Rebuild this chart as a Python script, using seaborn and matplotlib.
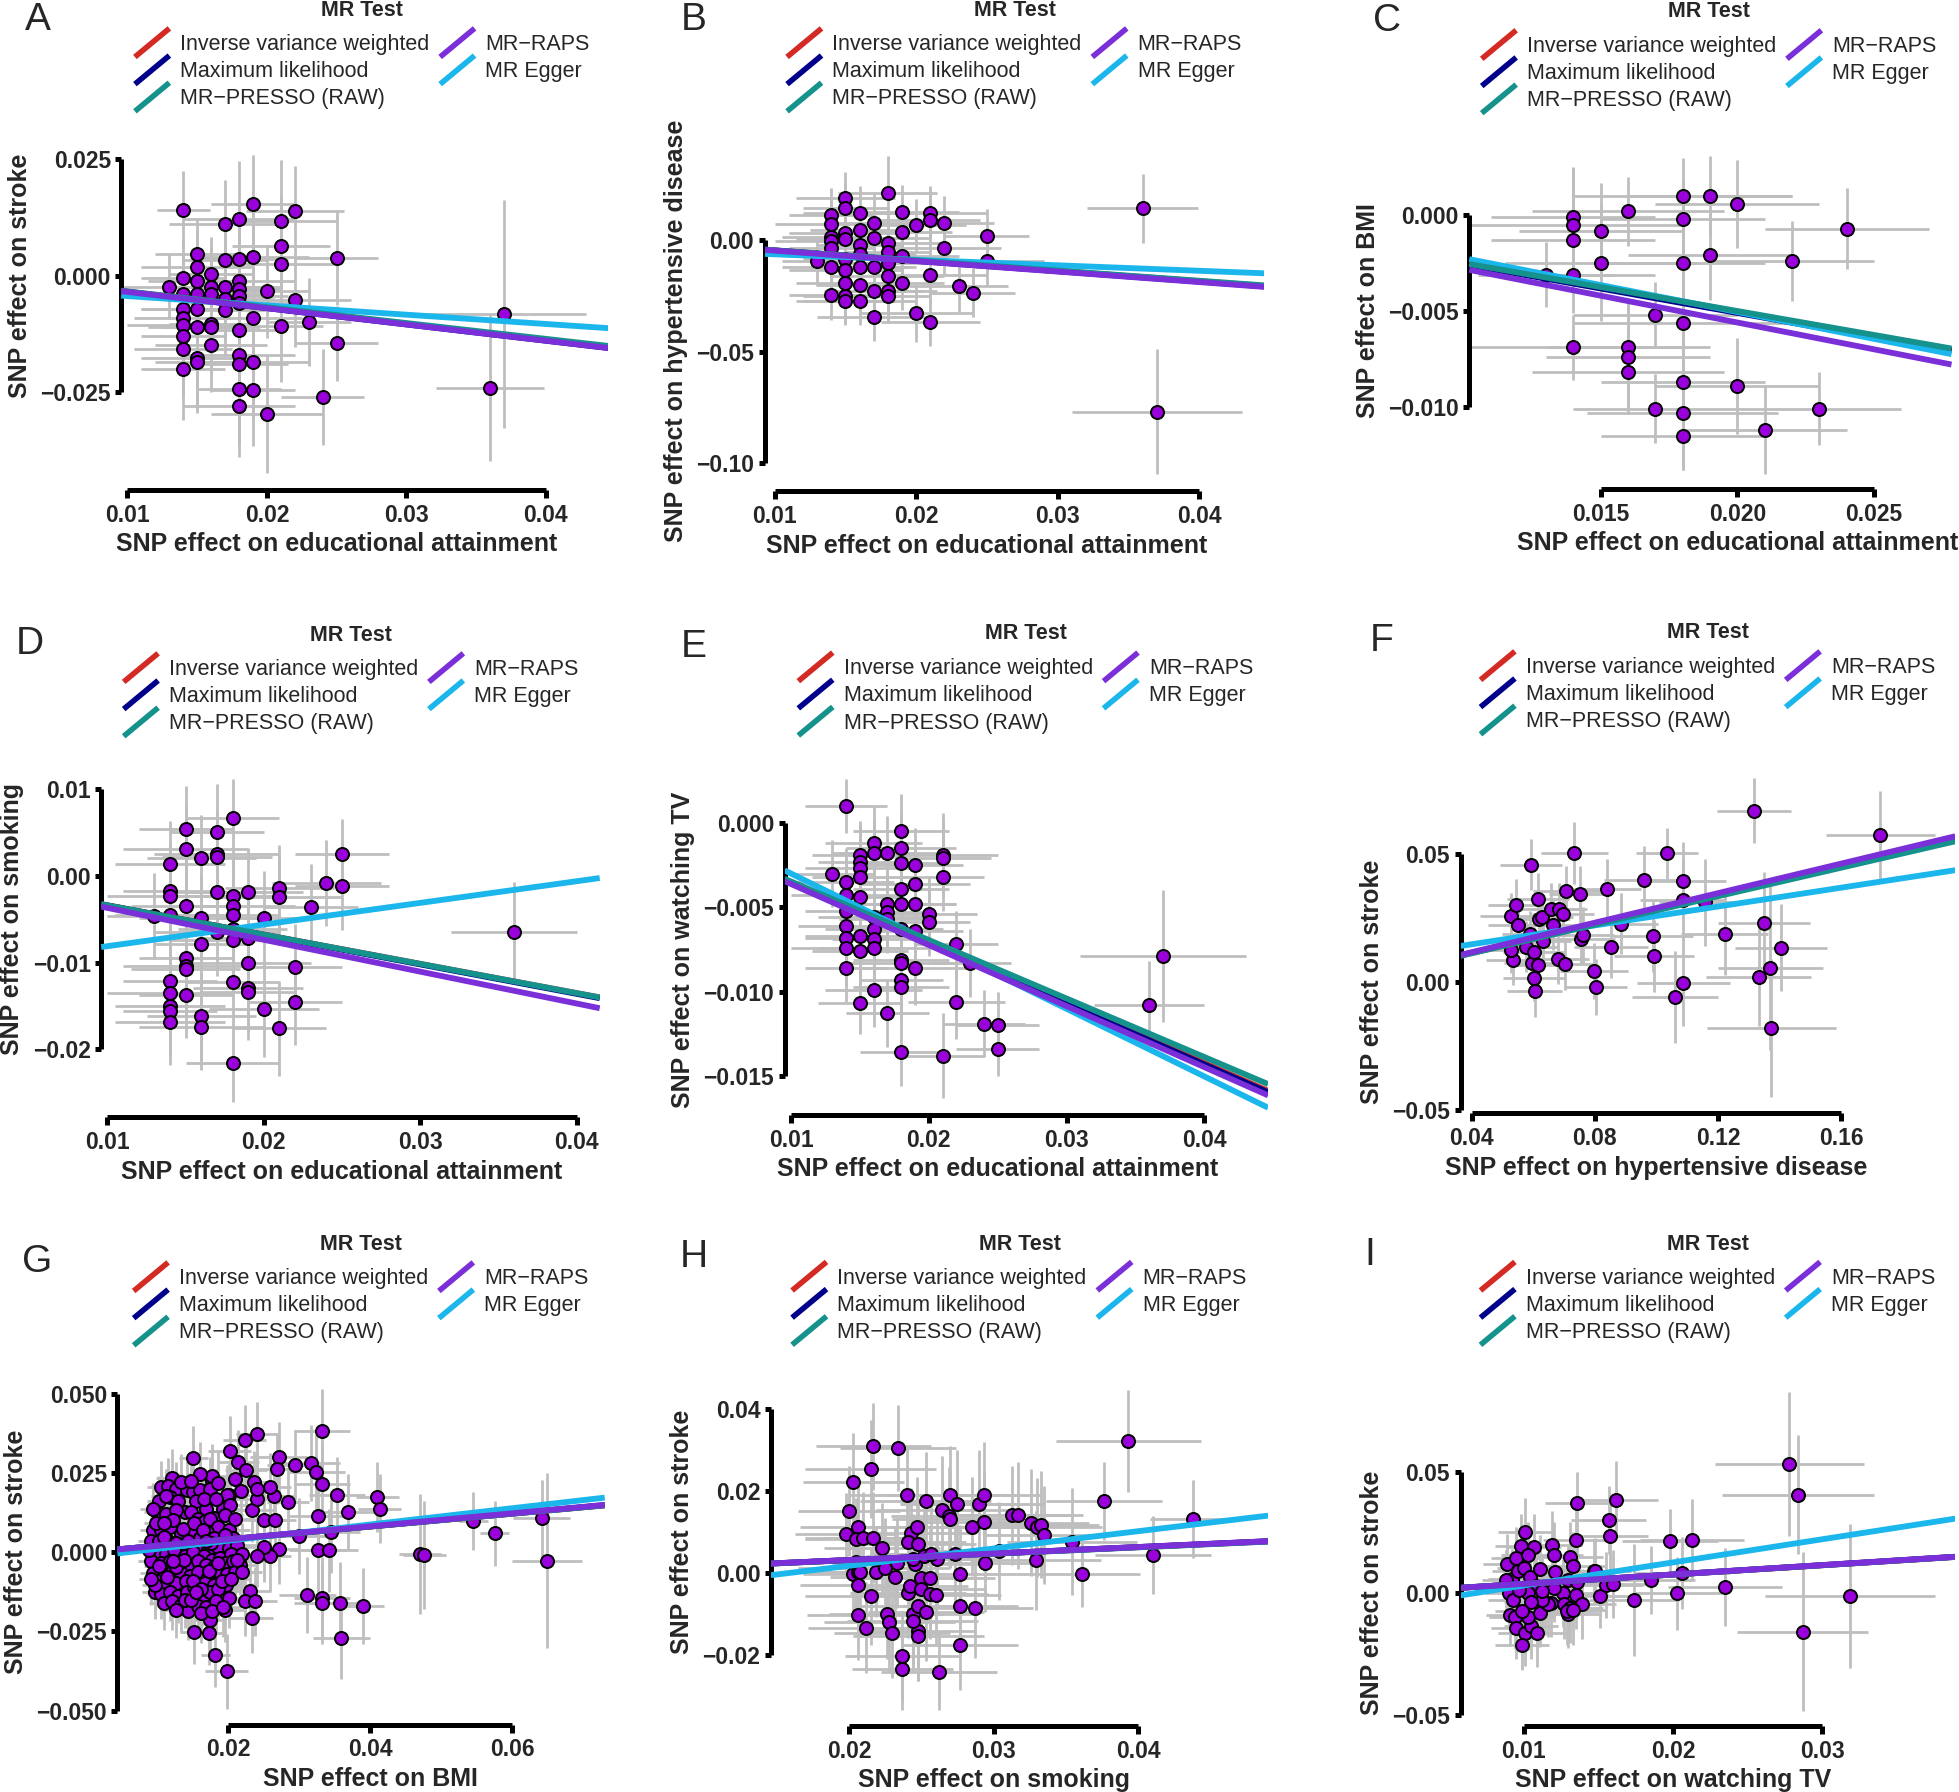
import numpy as np
import pandas as pd
import matplotlib
matplotlib.use("Agg")
import matplotlib.pyplot as plt
from matplotlib.lines import Line2D
from matplotlib.legend_handler import HandlerBase
import seaborn as sns

sns.set_style("white")
plt.rcParams['font.family'] = ['Liberation Sans', 'DejaVu Sans']

MINUS = "\u2212"
METHODS = ["Inverse variance weighted", "Maximum likelihood", "MR" + MINUS + "PRESSO (RAW)",
           "MR" + MINUS + "RAPS", "MR Egger"]
METHOD_COLORS = ["#D42A24", "#00008B", "#16928C", "#7B2FD8", "#1AB6EC"]
DRAW_ORDER = [0, 1, 4, 2, 3]

# ---------------- data: (SNP effect on exposure, on outcome, x half-width, y half-width)
PTS_A = [
    (0.013, -0.0024, 0.0035, 0.0070),
    (0.014, 0.0142, 0.0019, 0.0083), (0.014, -0.0004, 0.0030, 0.0080), (0.014, -0.0040, 0.0040, 0.0090),
    (0.014, -0.0071, 0.0030, 0.0080), (0.014, -0.0091, 0.0035, 0.0090), (0.014, -0.0107, 0.0040, 0.0100),
    (0.014, -0.0130, 0.0030, 0.0090), (0.014, -0.0158, 0.0035, 0.0100), (0.014, -0.0200, 0.0030, 0.0110),
    (0.015, 0.0047, 0.0030, 0.0075), (0.015, 0.0018, 0.0040, 0.0080), (0.015, -0.0012, 0.0035, 0.0085),
    (0.015, -0.0040, 0.0030, 0.0090), (0.015, -0.0071, 0.0040, 0.0090), (0.015, -0.0111, 0.0035, 0.0100),
    (0.015, -0.0178, 0.0040, 0.0100), (0.015, -0.0186, 0.0030, 0.0110),
    (0.016, 0.0004, 0.0030, 0.0080), (0.016, -0.0024, 0.0035, 0.0085), (0.016, -0.0040, 0.0040, 0.0090),
    (0.016, -0.0103, 0.0030, 0.0095), (0.016, -0.0111, 0.0035, 0.0100), (0.016, -0.0150, 0.0040, 0.0100),
    (0.017, 0.0111, 0.0040, 0.0095), (0.017, 0.0033, 0.0030, 0.0090), (0.017, -0.0024, 0.0040, 0.0085),
    (0.017, -0.0051, 0.0035, 0.0090), (0.017, -0.0073, 0.0030, 0.0100),
    (0.018, 0.0122, 0.0040, 0.0125), (0.018, 0.0036, 0.0035, 0.0090), (0.018, -0.0012, 0.0040, 0.0095),
    (0.018, -0.0028, 0.0030, 0.0090), (0.018, -0.0043, 0.0035, 0.0090), (0.018, -0.0059, 0.0040, 0.0100),
    (0.018, -0.0118, 0.0030, 0.0110), (0.018, -0.0170, 0.0040, 0.0110), (0.018, -0.0190, 0.0035, 0.0110),
    (0.018, -0.0243, 0.0030, 0.0120), (0.018, -0.0280, 0.0040, 0.0110),
    (0.019, 0.0154, 0.0030, 0.0105), (0.019, 0.0040, 0.0040, 0.0095), (0.019, -0.0091, 0.0035, 0.0110),
    (0.019, -0.0186, 0.0040, 0.0120), (0.019, -0.0247, 0.0030, 0.0120),
    (0.020, -0.0034, 0.0030, 0.0100), (0.020, -0.0298, 0.0040, 0.0127),
    (0.021, 0.0118, 0.0040, 0.0130), (0.021, 0.0063, 0.0035, 0.0110), (0.021, 0.0024, 0.0040, 0.0100),
    (0.021, -0.0108, 0.0030, 0.0120),
    (0.022, 0.0140, 0.0035, 0.0095), (0.022, -0.0053, 0.0040, 0.0100),
    (0.023, -0.0100, 0.0030, 0.0095),
    (0.024, -0.0261, 0.0030, 0.0103),
    (0.025, 0.0037, 0.0030, 0.0100), (0.025, -0.0146, 0.0030, 0.0080),
    (0.036, -0.0241, 0.0039, 0.0158),
    (0.037, -0.0083, 0.0059, 0.0245),
]
PTS_B = [
    (0.013, -0.0094, 0.0025, 0.011),
    (0.014, 0.0113, 0.0030, 0.012), (0.014, 0.0071, 0.0040, 0.011), (0.014, 0.0013, 0.0035, 0.012),
    (0.014, -0.0003, 0.0040, 0.011), (0.014, -0.0036, 0.0030, 0.012), (0.014, -0.0119, 0.0035, 0.012),
    (0.014, -0.0248, 0.0030, 0.011),
    (0.015, 0.0187, 0.0035, 0.012), (0.015, 0.0146, 0.0030, 0.011), (0.015, 0.0033, 0.0040, 0.012),
    (0.015, 0.0005, 0.0035, 0.011), (0.015, -0.0086, 0.0030, 0.012), (0.015, -0.0136, 0.0040, 0.012),
    (0.015, -0.0194, 0.0035, 0.011), (0.015, -0.0252, 0.0030, 0.012), (0.015, -0.0272, 0.0035, 0.011),
    (0.016, 0.0121, 0.0040, 0.012), (0.016, 0.0046, 0.0035, 0.011), (0.016, -0.0023, 0.0030, 0.012),
    (0.016, -0.0061, 0.0040, 0.011), (0.016, -0.0119, 0.0035, 0.012), (0.016, -0.0199, 0.0030, 0.012),
    (0.016, -0.0272, 0.0040, 0.011),
    (0.017, 0.0079, 0.0035, 0.013), (0.017, 0.0010, 0.0040, 0.012), (0.017, -0.0119, 0.0030, 0.012),
    (0.017, -0.0227, 0.0035, 0.012), (0.017, -0.0343, 0.0040, 0.011),
    (0.018, 0.0212, 0.0035, 0.0165), (0.018, -0.0012, 0.0040, 0.012), (0.018, -0.0053, 0.0030, 0.012),
    (0.018, -0.0103, 0.0035, 0.013), (0.018, -0.0161, 0.0040, 0.012), (0.018, -0.0227, 0.0035, 0.013),
    (0.018, -0.0252, 0.0030, 0.012),
    (0.019, 0.0126, 0.0040, 0.012), (0.019, 0.0038, 0.0035, 0.012), (0.019, -0.0070, 0.0040, 0.013),
    (0.019, -0.0194, 0.0030, 0.012),
    (0.020, 0.0066, 0.0035, 0.012), (0.020, -0.0326, 0.0040, 0.013),
    (0.021, 0.0121, 0.0040, 0.012), (0.021, 0.0088, 0.0035, 0.013), (0.021, -0.0156, 0.0040, 0.012),
    (0.021, -0.0368, 0.0035, 0.0105),
    (0.022, 0.0079, 0.0035, 0.012), (0.022, -0.0036, 0.0040, 0.012),
    (0.023, -0.0205, 0.0035, 0.012),
    (0.024, -0.0235, 0.0030, 0.011),
    (0.025, 0.0018, 0.0030, 0.012), (0.025, -0.0094, 0.0040, 0.011),
    (0.036, 0.0142, 0.0039, 0.0153),
    (0.037, -0.0770, 0.0060, 0.0280),
]
PTS_C = [
    (0.013, -0.0031, 0.0025, 0.0017),
    (0.014, -0.0001, 0.0030, 0.0025), (0.014, -0.0005, 0.0040, 0.0030), (0.014, -0.0013, 0.0030, 0.0025),
    (0.014, -0.0031, 0.0030, 0.0020), (0.014, -0.0069, 0.0040, 0.0017),
    (0.015, -0.0008, 0.0030, 0.0025), (0.015, -0.0025, 0.0035, 0.0030),
    (0.016, 0.0002, 0.0035, 0.0018), (0.016, -0.0069, 0.0030, 0.0025), (0.016, -0.0074, 0.0030, 0.0030),
    (0.016, -0.0082, 0.0035, 0.0020),
    (0.017, -0.0052, 0.0030, 0.0017), (0.017, -0.0101, 0.0030, 0.0018),
    (0.018, 0.0010, 0.0040, 0.0020), (0.018, -0.0002, 0.0030, 0.0020), (0.018, -0.0025, 0.0030, 0.0020),
    (0.018, -0.0056, 0.0040, 0.0030), (0.018, -0.0087, 0.0030, 0.0035), (0.018, -0.0103, 0.0035, 0.0030),
    (0.018, -0.0115, 0.0030, 0.0018),
    (0.019, 0.0010, 0.0030, 0.0021), (0.019, -0.0021, 0.0030, 0.0023),
    (0.020, 0.0006, 0.0030, 0.0023), (0.020, -0.0089, 0.0030, 0.0025),
    (0.021, -0.0112, 0.0030, 0.0023),
    (0.022, -0.0024, 0.0030, 0.0021),
    (0.023, -0.0101, 0.0030, 0.0019),
    (0.024, -0.0007, 0.0030, 0.0021),
]
PTS_D = [
    (0.013, -0.0046, 0.0030, 0.0050),
    (0.014, 0.0014, 0.0035, 0.0050), (0.014, -0.0017, 0.0030, 0.0055), (0.014, -0.0023, 0.0040, 0.0050),
    (0.014, -0.0045, 0.0035, 0.0050), (0.014, -0.0121, 0.0030, 0.0050), (0.014, -0.0135, 0.0040, 0.0055),
    (0.014, -0.0150, 0.0035, 0.0050), (0.014, -0.0156, 0.0030, 0.0050), (0.014, -0.0168, 0.0035, 0.0050),
    (0.015, 0.0054, 0.0030, 0.0050), (0.015, 0.0031, 0.0040, 0.0050), (0.015, -0.0035, 0.0035, 0.0055),
    (0.015, -0.0095, 0.0030, 0.0050), (0.015, -0.0104, 0.0040, 0.0050), (0.015, -0.0107, 0.0035, 0.0055),
    (0.015, -0.0137, 0.0030, 0.0050),
    (0.016, 0.0021, 0.0035, 0.0050), (0.016, -0.0048, 0.0040, 0.0050), (0.016, -0.0079, 0.0030, 0.0055),
    (0.016, -0.0162, 0.0035, 0.0050), (0.016, -0.0174, 0.0040, 0.0050),
    (0.017, 0.0051, 0.0030, 0.0055), (0.017, 0.0026, 0.0040, 0.0050), (0.017, 0.0022, 0.0035, 0.0050),
    (0.017, -0.0018, 0.0030, 0.0055), (0.017, -0.0065, 0.0040, 0.0050),
    (0.018, 0.0067, 0.0030, 0.0045), (0.018, -0.0023, 0.0035, 0.0050), (0.018, -0.0035, 0.0040, 0.0055),
    (0.018, -0.0045, 0.0030, 0.0050), (0.018, -0.0061, 0.0035, 0.0050), (0.018, -0.0074, 0.0040, 0.0055),
    (0.018, -0.0122, 0.0030, 0.0050), (0.018, -0.0216, 0.0030, 0.0045),
    (0.019, -0.0018, 0.0035, 0.0050), (0.019, -0.0072, 0.0030, 0.0055), (0.019, -0.0100, 0.0040, 0.0050),
    (0.019, -0.0129, 0.0035, 0.0050), (0.019, -0.0134, 0.0030, 0.0055),
    (0.020, -0.0049, 0.0030, 0.0055), (0.020, -0.0154, 0.0035, 0.0055),
    (0.021, -0.0014, 0.0035, 0.0050), (0.021, -0.0024, 0.0040, 0.0050), (0.021, -0.0176, 0.0030, 0.0055),
    (0.022, -0.0105, 0.0030, 0.0050), (0.022, -0.0145, 0.0030, 0.0050),
    (0.023, -0.0036, 0.0030, 0.0050),
    (0.024, -0.0008, 0.0035, 0.0050),
    (0.025, 0.0026, 0.0030, 0.0040), (0.025, -0.0012, 0.0030, 0.0050),
    (0.036, -0.0065, 0.0040, 0.0058),
]
PTS_E = [
    (0.013, -0.0030, 0.0030, 0.0020),
    (0.014, 0.0010, 0.0030, 0.0016), (0.014, -0.0035, 0.0035, 0.0020), (0.014, -0.0043, 0.0040, 0.0022),
    (0.014, -0.0052, 0.0030, 0.0020), (0.014, -0.0061, 0.0035, 0.0022), (0.014, -0.0068, 0.0030, 0.0020),
    (0.014, -0.0074, 0.0040, 0.0022), (0.014, -0.0086, 0.0030, 0.0020),
    (0.015, -0.0019, 0.0035, 0.0020), (0.015, -0.0023, 0.0030, 0.0022), (0.015, -0.0027, 0.0040, 0.0020),
    (0.015, -0.0032, 0.0035, 0.0022), (0.015, -0.0044, 0.0030, 0.0020), (0.015, -0.0067, 0.0040, 0.0022),
    (0.015, -0.0076, 0.0035, 0.0020), (0.015, -0.0107, 0.0030, 0.0018),
    (0.016, -0.0012, 0.0035, 0.0022), (0.016, -0.0018, 0.0030, 0.0020), (0.016, -0.0056, 0.0040, 0.0022),
    (0.016, -0.0063, 0.0035, 0.0020), (0.016, -0.0069, 0.0030, 0.0022), (0.016, -0.0074, 0.0040, 0.0020),
    (0.016, -0.0099, 0.0035, 0.0022),
    (0.017, -0.0018, 0.0035, 0.0022), (0.017, -0.0048, 0.0040, 0.0020), (0.017, -0.0053, 0.0030, 0.0022),
    (0.017, -0.0057, 0.0035, 0.0020), (0.017, -0.0113, 0.0030, 0.0020),
    (0.018, -0.0005, 0.0035, 0.0022), (0.018, -0.0015, 0.0040, 0.0020), (0.018, -0.0024, 0.0030, 0.0022),
    (0.018, -0.0039, 0.0035, 0.0020), (0.018, -0.0048, 0.0040, 0.0022), (0.018, -0.0063, 0.0030, 0.0020),
    (0.018, -0.0081, 0.0035, 0.0022), (0.018, -0.0083, 0.0040, 0.0020), (0.018, -0.0093, 0.0030, 0.0022),
    (0.018, -0.0097, 0.0035, 0.0020), (0.018, -0.0136, 0.0030, 0.0020),
    (0.019, -0.0025, 0.0035, 0.0022), (0.019, -0.0036, 0.0040, 0.0020), (0.019, -0.0048, 0.0030, 0.0022),
    (0.019, -0.0064, 0.0035, 0.0020), (0.019, -0.0086, 0.0040, 0.0022),
    (0.020, -0.0054, 0.0035, 0.0022), (0.020, -0.0059, 0.0030, 0.0020),
    (0.021, -0.0019, 0.0040, 0.0025), (0.021, -0.0021, 0.0035, 0.0022), (0.021, -0.0032, 0.0030, 0.0020),
    (0.021, -0.0138, 0.0030, 0.0025),
    (0.022, -0.0072, 0.0030, 0.0020), (0.022, -0.0106, 0.0035, 0.0022),
    (0.023, -0.0083, 0.0030, 0.0020),
    (0.024, -0.0119, 0.0030, 0.0020),
    (0.025, -0.0120, 0.0030, 0.0020), (0.025, -0.0134, 0.0030, 0.0016),
    (0.036, -0.0108, 0.0040, 0.0026),
    (0.037, -0.0079, 0.0060, 0.0039),
]
PTS_F = [
    (0.0527, 0.0256, 0.010, 0.009), (0.0543, 0.0301, 0.009, 0.010), (0.0552, 0.0221, 0.010, 0.009),
    (0.0536, 0.0087, 0.009, 0.010), (0.0527, 0.0123, 0.010, 0.009), (0.0576, 0.0137, 0.010, 0.010),
    (0.0589, 0.0188, 0.009, 0.009), (0.0593, 0.0458, 0.010, 0.010), (0.0596, 0.0072, 0.009, 0.010),
    (0.0602, 0.0014, 0.010, 0.009), (0.0605, -0.0036, 0.009, 0.010), (0.0615, 0.0325, 0.010, 0.010),
    (0.0615, 0.0065, 0.009, 0.009), (0.0602, 0.0116, 0.010, 0.010), (0.0619, 0.0246, 0.010, 0.010),
    (0.0633, 0.0159, 0.009, 0.010), (0.0629, 0.0253, 0.010, 0.009), (0.0659, 0.0285, 0.010, 0.010),
    (0.0664, 0.0224, 0.009, 0.010), (0.0681, 0.0091, 0.010, 0.010), (0.0685, 0.0285, 0.009, 0.010),
    (0.0697, 0.0267, 0.010, 0.009), (0.0704, 0.0068, 0.010, 0.010), (0.0708, 0.0354, 0.011, 0.010),
    (0.0734, 0.0503, 0.011, 0.012), (0.0752, 0.0342, 0.010, 0.011), (0.0754, 0.0166, 0.011, 0.010),
    (0.0761, 0.0184, 0.010, 0.011), (0.0798, 0.0043, 0.011, 0.011), (0.0803, -0.0019, 0.010, 0.011),
    (0.0840, 0.0361, 0.011, 0.012), (0.0853, 0.0137, 0.012, 0.012), (0.0886, 0.0227, 0.012, 0.012),
    (0.0959, 0.0400, 0.013, 0.013), (0.0989, 0.0178, 0.013, 0.014), (0.0992, 0.0101, 0.013, 0.014),
    (0.1034, 0.0503, 0.010, 0.010), (0.1061, -0.0058, 0.014, 0.018), (0.1087, 0.0395, 0.014, 0.015),
    (0.1087, 0.0318, 0.014, 0.016), (0.1087, -0.0004, 0.015, 0.017), (0.1157, 0.0311, 0.015, 0.017),
    (0.1221, 0.0188, 0.014, 0.016), (0.1316, 0.0668, 0.012, 0.0127), (0.1332, 0.0019, 0.017, 0.019),
    (0.1349, 0.0231, 0.015, 0.020), (0.1369, 0.0053, 0.017, 0.032), (0.1373, -0.0181, 0.021, 0.027),
    (0.1404, 0.0133, 0.015, 0.017), (0.1726, 0.0574, 0.0177, 0.0173),
]
PTS_G = [
    (0.0241, 0.0374, 0.003, 0.010), (0.0223, 0.0356, 0.003, 0.011), (0.0332, 0.0382, 0.004, 0.0133),
    (0.0202, 0.0320, 0.003, 0.011), (0.0151, 0.0299, 0.002, 0.010), (0.0214, 0.0285, 0.003, 0.010),
    (0.0225, 0.0259, 0.003, 0.011), (0.0271, 0.0301, 0.004, 0.011), (0.0268, 0.0264, 0.003, 0.011),
    (0.0294, 0.0276, 0.004, 0.011), (0.0317, 0.0282, 0.004, 0.012), (0.0324, 0.0253, 0.004, 0.012),
    (0.0332, 0.0216, 0.004, 0.012), (0.0284, 0.0159, 0.003, 0.011), (0.0353, 0.0182, 0.004, 0.012),
    (0.0369, 0.0126, 0.004, 0.012), (0.0410, 0.0175, 0.003, 0.011), (0.0413, 0.0138, 0.003, 0.011),
    (0.0326, 0.0113, 0.004, 0.013), (0.0300, 0.0052, 0.004, 0.012), (0.0345, 0.0063, 0.004, 0.013),
    (0.0326, 0.0006, 0.004, 0.013), (0.0342, 0.0006, 0.004, 0.013), (0.0271, 0.0011, 0.003, 0.011),
    (0.0259, -0.0011, 0.003, 0.011), (0.0250, 0.0017, 0.003, 0.011), (0.0241, -0.0011, 0.003, 0.010),
    (0.0250, 0.0101, 0.003, 0.011), (0.0266, 0.0103, 0.003, 0.011), (0.0233, 0.0132, 0.003, 0.010),
    (0.0241, 0.0167, 0.003, 0.011), (0.0264, 0.0178, 0.003, 0.011), (0.0259, 0.0205, 0.003, 0.011),
    (0.0236, 0.0221, 0.003, 0.010), (0.0241, 0.0201, 0.003, 0.011), (0.0209, 0.0230, 0.003, 0.010),
    (0.0218, 0.0195, 0.003, 0.010), (0.0311, -0.0136, 0.004, 0.012), (0.0332, -0.0144, 0.004, 0.013),
    (0.0332, -0.0161, 0.004, 0.013), (0.0357, -0.0161, 0.004, 0.013), (0.0389, -0.0170, 0.003, 0.012),
    (0.0359, -0.0270, 0.004, 0.013), (0.0233, -0.0207, 0.003, 0.011), (0.0230, -0.0121, 0.003, 0.011),
    (0.0224, -0.0155, 0.003, 0.011), (0.0238, -0.0155, 0.003, 0.011), (0.0198, -0.0376, 0.003, 0.0118),
    (0.0182, -0.0324, 0.002, 0.010), (0.0173, -0.0255, 0.002, 0.010), (0.0152, -0.0253, 0.002, 0.010),
    (0.0175, -0.0215, 0.002, 0.010), (0.0195, -0.0182, 0.003, 0.010), (0.0470, -0.0006, 0.003, 0.019),
    (0.0476, -0.0009, 0.003, 0.017), (0.0545, 0.0098, 0.002, 0.0092), (0.0575, 0.0060, 0.002, 0.0103),
    (0.0641, 0.0109, 0.004, 0.012), (0.0649, -0.0026, 0.0049, 0.0276), (0.0201, 0.0182, 0.003, 0.010),
    (0.0201, 0.0071, 0.003, 0.010), (0.0177, 0.0224, 0.002, 0.010), (0.0177, 0.0241, 0.002, 0.010),
    (0.0160, 0.0247, 0.002, 0.010),
    (0.0121, 0.0236, 0.0022, 0.009), (0.0105, 0.0207, 0.0020, 0.008), (0.0115, 0.0209, 0.0024, 0.009),
    (0.0127, 0.0201, 0.0020, 0.0085), (0.0142, 0.0198, 0.0026, 0.009), (0.0151, 0.0190, 0.0022, 0.0095),
    (0.0160, 0.0198, 0.0024, 0.009), (0.0175, 0.0201, 0.0026, 0.010), (0.0186, 0.0219, 0.0022, 0.010),
    (0.0198, 0.0182, 0.0026, 0.0095), (0.0103, 0.0161, 0.0018, 0.008), (0.0118, 0.0173, 0.0022, 0.0085),
    (0.0130, 0.0161, 0.0020, 0.009), (0.0139, 0.0127, 0.0024, 0.0085), (0.0154, 0.0161, 0.0022, 0.009),
    (0.0169, 0.0138, 0.0026, 0.0095), (0.0180, 0.0109, 0.0024, 0.009), (0.0192, 0.0138, 0.0026, 0.010),
    (0.0203, 0.0150, 0.0028, 0.010), (0.0100, 0.0127, 0.0018, 0.008), (0.0112, 0.0121, 0.0020, 0.0085),
    (0.0127, 0.0132, 0.0022, 0.009), (0.0148, 0.0127, 0.0024, 0.009), (0.0157, 0.0104, 0.0022, 0.0085),
    (0.0167, 0.0098, 0.0026, 0.009), (0.0175, 0.0104, 0.0024, 0.0095), (0.0186, 0.0081, 0.0026, 0.010),
    (0.0201, 0.0069, 0.0028, 0.0095), (0.0094, 0.0069, 0.0018, 0.008), (0.0106, 0.0069, 0.0020, 0.0075),
    (0.0118, 0.0081, 0.0022, 0.008), (0.0133, 0.0058, 0.0020, 0.0085), (0.0148, 0.0058, 0.0024, 0.009),
    (0.0160, 0.0046, 0.0022, 0.0085), (0.0170, 0.0063, 0.0026, 0.009), (0.0180, 0.0046, 0.0024, 0.0095),
    (0.0192, 0.0035, 0.0026, 0.009), (0.0207, 0.0046, 0.0028, 0.010), (0.0091, 0.0035, 0.0018, 0.0075),
    (0.0103, 0.0035, 0.0020, 0.008), (0.0115, 0.0035, 0.0022, 0.0085), (0.0127, 0.0029, 0.0020, 0.008),
    (0.0142, 0.0023, 0.0024, 0.009), (0.0157, 0.0012, 0.0022, 0.0085), (0.0172, 0.0006, 0.0026, 0.009),
    (0.0186, 0.0017, 0.0024, 0.0095), (0.0201, 0.0012, 0.0026, 0.010), (0.0213, 0.0023, 0.0028, 0.010),
    (0.0097, 0.0000, 0.0018, 0.008), (0.0112, -0.0006, 0.0020, 0.0085), (0.0124, 0.0006, 0.0022, 0.008),
    (0.0139, -0.0012, 0.0020, 0.0085), (0.0151, 0.0000, 0.0024, 0.009), (0.0166, -0.0012, 0.0022, 0.0085),
    (0.0177, -0.0023, 0.0026, 0.009), (0.0189, -0.0017, 0.0024, 0.0095), (0.0204, -0.0006, 0.0026, 0.0095),
    (0.0219, -0.0006, 0.0028, 0.010), (0.0091, -0.0029, 0.0018, 0.0075), (0.0106, -0.0035, 0.0020, 0.008),
    (0.0118, -0.0029, 0.0022, 0.0085), (0.0133, -0.0040, 0.0020, 0.008), (0.0145, -0.0046, 0.0024, 0.009),
    (0.0157, -0.0029, 0.0022, 0.0085), (0.0169, -0.0040, 0.0026, 0.009), (0.0180, -0.0046, 0.0024, 0.0095),
    (0.0195, -0.0035, 0.0026, 0.009), (0.0207, -0.0029, 0.0028, 0.010), (0.0216, -0.0040, 0.0026, 0.0095),
    (0.0094, -0.0067, 0.0018, 0.008), (0.0109, -0.0058, 0.0020, 0.0085), (0.0121, -0.0063, 0.0022, 0.008),
    (0.0134, -0.0067, 0.0020, 0.0085), (0.0146, -0.0075, 0.0024, 0.009), (0.0158, -0.0063, 0.0022, 0.0085),
    (0.0170, -0.0086, 0.0026, 0.009), (0.0185, -0.0060, 0.0024, 0.0095), (0.0198, -0.0069, 0.0026, 0.009),
    (0.0209, -0.0063, 0.0028, 0.010), (0.0100, -0.0092, 0.0018, 0.008), (0.0112, -0.0098, 0.0020, 0.0085),
    (0.0127, -0.0098, 0.0022, 0.009), (0.0140, -0.0092, 0.0020, 0.0085), (0.0154, -0.0098, 0.0024, 0.009),
    (0.0167, -0.0098, 0.0022, 0.0095), (0.0180, -0.0104, 0.0026, 0.009), (0.0197, -0.0104, 0.0024, 0.010),
    (0.0097, -0.0127, 0.0018, 0.0085), (0.0106, -0.0132, 0.0020, 0.008), (0.0118, -0.0127, 0.0022, 0.009),
    (0.0130, -0.0138, 0.0020, 0.0085), (0.0142, -0.0127, 0.0024, 0.009), (0.0152, -0.0109, 0.0022, 0.0095),
    (0.0163, -0.0144, 0.0026, 0.009), (0.0175, -0.0127, 0.0024, 0.0095), (0.0186, -0.0115, 0.0026, 0.010),
    (0.0201, -0.0144, 0.0028, 0.0095), (0.0109, -0.0161, 0.0020, 0.0085), (0.0121, -0.0155, 0.0022, 0.009),
    (0.0133, -0.0167, 0.0020, 0.0085), (0.0144, -0.0186, 0.0024, 0.009), (0.0157, -0.0170, 0.0022, 0.0095),
    (0.0169, -0.0173, 0.0026, 0.009), (0.0183, -0.0155, 0.0024, 0.010), (0.0139, -0.0150, 0.0022, 0.009),
    (0.0148, -0.0150, 0.0024, 0.0085),
    (0.0099, 0.0092, 0.0018, 0.008), (0.0110, 0.0048, 0.0020, 0.0085), (0.0122, 0.0101, 0.0022, 0.008),
    (0.0137, 0.0075, 0.0020, 0.0085), (0.0152, 0.0092, 0.0024, 0.009), (0.0164, 0.0071, 0.0022, 0.0085),
    (0.0176, 0.0029, 0.0026, 0.009), (0.0195, 0.0055, 0.0024, 0.0095), (0.0089, 0.0006, 0.0018, 0.0075),
    (0.0102, -0.0044, 0.0020, 0.008), (0.0114, -0.0078, 0.0022, 0.0085), (0.0126, -0.0048, 0.0020, 0.008),
    (0.0138, -0.0023, 0.0024, 0.009), (0.0150, -0.0092, 0.0022, 0.0085), (0.0161, -0.0115, 0.0026, 0.009),
    (0.0173, -0.0058, 0.0024, 0.0095), (0.0191, -0.0092, 0.0026, 0.009), (0.0204, -0.0086, 0.0028, 0.010),
    (0.0213, -0.0023, 0.0026, 0.0095), (0.0219, -0.0063, 0.0028, 0.010), (0.0112, 0.0178, 0.0020, 0.0085),
    (0.0134, 0.0221, 0.0022, 0.009), (0.0166, 0.0167, 0.0024, 0.009), (0.0183, 0.0167, 0.0026, 0.0095),
    (0.0195, 0.0117, 0.0026, 0.010), (0.0210, 0.0104, 0.0028, 0.010), (0.0097, -0.0104, 0.0018, 0.008),
    (0.0127, -0.0182, 0.0022, 0.009), (0.0161, -0.0193, 0.0024, 0.0095), (0.0177, -0.0184, 0.0026, 0.009),
    (0.0192, -0.0173, 0.0026, 0.0095), (0.0094, 0.0138, 0.0018, 0.008), (0.0148, 0.0224, 0.0022, 0.009),
    (0.0109, 0.0094, 0.0020, 0.0085), (0.0186, -0.0035, 0.0024, 0.009), (0.0144, 0.0035, 0.0022, 0.0085),
    (0.0122, -0.0029, 0.0020, 0.008), (0.0169, 0.0035, 0.0024, 0.009), (0.0092, -0.0086, 0.0018, 0.008),
    (0.0154, -0.0127, 0.0022, 0.009),
]
PTS_H = [
    (0.0198, 0.0095, 0.0035, 0.010), (0.0203, 0.0222, 0.0035, 0.012), (0.0200, 0.0151, 0.0035, 0.011),
    (0.0206, 0.0113, 0.0040, 0.011), (0.0205, 0.0083, 0.0035, 0.010), (0.0210, 0.0086, 0.0040, 0.011),
    (0.0217, 0.0086, 0.0035, 0.011), (0.0217, 0.0308, 0.0040, 0.0105), (0.0215, 0.0253, 0.0045, 0.012),
    (0.0223, 0.0060, 0.0040, 0.011), (0.0205, 0.0027, 0.0045, 0.011), (0.0205, 0.0013, 0.0040, 0.010),
    (0.0203, -0.0003, 0.0035, 0.011), (0.0206, 0.0003, 0.0040, 0.011), (0.0208, 0.0003, 0.0045, 0.010),
    (0.0206, -0.0029, 0.0040, 0.011), (0.0215, -0.0056, 0.0045, 0.012), (0.0206, -0.0102, 0.0035, 0.011),
    (0.0212, -0.0133, 0.0040, 0.011), (0.0219, 0.0003, 0.0040, 0.011), (0.0225, 0.0013, 0.0045, 0.012),
    (0.0226, -0.0100, 0.0040, 0.011), (0.0228, -0.0120, 0.0045, 0.012), (0.0230, -0.0145, 0.0040, 0.011),
    (0.0232, -0.0009, 0.0045, 0.012), (0.0234, 0.0305, 0.0040, 0.0105), (0.0233, 0.0024, 0.0045, 0.011),
    (0.0240, 0.0189, 0.0040, 0.012), (0.0243, 0.0098, 0.0045, 0.011), (0.0241, 0.0076, 0.0040, 0.012),
    (0.0247, 0.0113, 0.0045, 0.012), (0.0248, 0.0071, 0.0040, 0.011), (0.0246, 0.0022, 0.0045, 0.012),
    (0.0241, -0.0049, 0.0040, 0.011), (0.0244, -0.0100, 0.0045, 0.012), (0.0242, -0.0031, 0.0040, 0.012),
    (0.0248, -0.0080, 0.0045, 0.011), (0.0248, -0.0142, 0.0040, 0.012), (0.0248, -0.0153, 0.0045, 0.011),
    (0.0250, -0.0013, 0.0040, 0.012), (0.0250, -0.0038, 0.0045, 0.011), (0.0253, -0.0095, 0.0040, 0.012),
    (0.0253, 0.0175, 0.0045, 0.012), (0.0252, 0.0042, 0.0040, 0.011), (0.0256, -0.0012, 0.0045, 0.012),
    (0.0256, -0.0051, 0.0040, 0.011), (0.0260, -0.0053, 0.0045, 0.012), (0.0261, 0.0033, 0.0040, 0.012),
    (0.0264, 0.0154, 0.0045, 0.013), (0.0269, 0.0138, 0.0040, 0.012), (0.0270, 0.0189, 0.0045, 0.012),
    (0.0270, 0.0131, 0.0040, 0.012), (0.0273, 0.0047, 0.0045, 0.012), (0.0275, 0.0169, 0.0040, 0.013),
    (0.0277, -0.0003, 0.0045, 0.012), (0.0277, -0.0080, 0.0040, 0.012), (0.0277, -0.0175, 0.0040, 0.011),
    (0.0285, 0.0113, 0.0045, 0.012), (0.0287, -0.0086, 0.0040, 0.012), (0.0290, 0.0169, 0.0045, 0.013),
    (0.0293, 0.0189, 0.0040, 0.013), (0.0293, 0.0124, 0.0045, 0.012), (0.0294, 0.0024, 0.0040, 0.012),
    (0.0304, 0.0053, 0.0045, 0.012), (0.0313, 0.0140, 0.0040, 0.012), (0.0317, 0.0140, 0.0045, 0.013),
    (0.0326, 0.0122, 0.0040, 0.013), (0.0330, 0.0111, 0.0045, 0.012), (0.0333, 0.0118, 0.0040, 0.013),
    (0.0329, 0.0031, 0.0045, 0.012), (0.0335, 0.0092, 0.0040, 0.012), (0.0354, 0.0076, 0.0045, 0.013),
    (0.0361, -0.0003, 0.0040, 0.0080), (0.0376, 0.0175, 0.0040, 0.0095), (0.0393, 0.0322, 0.0050, 0.0124),
    (0.0410, 0.0044, 0.0040, 0.0095), (0.0438, 0.0131, 0.0030, 0.0095), (0.0237, -0.0202, 0.0040, 0.011),
    (0.0237, -0.0234, 0.0035, 0.0099), (0.0262, -0.0240, 0.0040, 0.0093), (0.0244, -0.0118, 0.0045, 0.012),
    (0.0257, 0.0047, 0.0040, 0.012), (0.0244, 0.0033, 0.0045, 0.011),
]
PTS_I = [
    (0.0278, 0.0533, 0.0050, 0.0297), (0.0284, 0.0405, 0.0051, 0.0245), (0.0287, -0.0158, 0.0044, 0.0326),
    (0.0319, -0.0011, 0.0057, 0.0297), (0.0235, 0.0026, 0.0038, 0.0160), (0.0203, 0.0000, 0.0030, 0.0150),
    (0.0206, 0.0083, 0.0032, 0.0150), (0.0213, 0.0221, 0.0035, 0.0165), (0.0198, 0.0215, 0.0032, 0.0130),
    (0.0185, 0.0053, 0.0030, 0.0140), (0.0174, -0.0027, 0.0030, 0.0230), (0.0162, 0.0383, 0.0028, 0.0160),
    (0.0157, 0.0300, 0.0025, 0.0140), (0.0158, 0.0237, 0.0025, 0.0140), (0.0136, 0.0371, 0.0022, 0.0130),
    (0.0135, 0.0221, 0.0022, 0.0135), (0.0151, -0.0012, 0.0025, 0.0130), (0.0155, 0.0033, 0.0025, 0.0135),
    (0.0160, 0.0038, 0.0026, 0.0140), (0.0147, 0.0093, 0.0024, 0.0130), (0.0101, 0.0252, 0.0018, 0.0140),
    (0.0098, 0.0195, 0.0017, 0.0130), (0.0107, 0.0191, 0.0018, 0.0135), (0.0089, 0.0120, 0.0016, 0.0125),
    (0.0095, 0.0143, 0.0017, 0.0130), (0.0103, 0.0158, 0.0018, 0.0135), (0.0092, 0.0057, 0.0016, 0.0125),
    (0.0096, 0.0090, 0.0017, 0.0130), (0.0100, 0.0105, 0.0018, 0.0130), (0.0104, 0.0068, 0.0018, 0.0135),
    (0.0111, 0.0098, 0.0019, 0.0140), (0.0108, 0.0030, 0.0019, 0.0135), (0.0088, 0.0053, 0.0016, 0.0125),
    (0.0090, 0.0000, 0.0016, 0.0130), (0.0093, -0.0030, 0.0017, 0.0130), (0.0091, -0.0090, 0.0016, 0.0125),
    (0.0094, -0.0098, 0.0017, 0.0130), (0.0095, -0.0143, 0.0017, 0.0130), (0.0101, -0.0165, 0.0018, 0.0135),
    (0.0105, -0.0135, 0.0018, 0.0135), (0.0109, -0.0165, 0.0019, 0.0140), (0.0099, -0.0215, 0.0018, 0.0100),
    (0.0103, -0.0098, 0.0018, 0.0135), (0.0103, 0.0000, 0.0018, 0.0130), (0.0097, 0.0015, 0.0017, 0.0130),
    (0.0111, -0.0080, 0.0019, 0.0140), (0.0114, -0.0038, 0.0019, 0.0135), (0.0118, -0.0042, 0.0020, 0.0140),
    (0.0119, 0.0200, 0.0020, 0.0140), (0.0120, 0.0158, 0.0020, 0.0135), (0.0121, 0.0087, 0.0020, 0.0140),
    (0.0126, 0.0000, 0.0021, 0.0140), (0.0127, -0.0045, 0.0021, 0.0145), (0.0130, 0.0053, 0.0022, 0.0140),
    (0.0131, 0.0147, 0.0022, 0.0145), (0.0133, 0.0113, 0.0022, 0.0140), (0.0136, 0.0045, 0.0022, 0.0145),
    (0.0135, -0.0008, 0.0022, 0.0140), (0.0131, -0.0060, 0.0022, 0.0145), (0.0130, -0.0087, 0.0022, 0.0140),
    (0.0139, -0.0045, 0.0023, 0.0145), (0.0120, 0.0023, 0.0020, 0.0140), (0.0116, -0.0045, 0.0020, 0.0135),
    (0.0112, -0.0030, 0.0019, 0.0135), (0.0129, -0.0075, 0.0021, 0.0140), (0.0133, -0.0068, 0.0022, 0.0145),
    (0.0148, 0.0093, 0.0024, 0.0135), (0.0112, 0.0008, 0.0019, 0.0135), (0.0105, -0.0038, 0.0018, 0.0130),
    (0.0099, -0.0075, 0.0018, 0.0130),
]

# MR estimates per method (IVW, ML, PRESSO, RAPS, Egger): slopes and intercepts
SLOPE_A, ICPT_A = [-0.345, -0.350, -0.340, -0.350, -0.200], [0, 0, 0, 0, -0.0024]
SLOPE_B, ICPT_B = [-0.460, -0.465, -0.455, -0.470, -0.246], [0, 0, 0, 0, -0.0039]
SLOPE_C, ICPT_C = [-0.252, -0.255, -0.250, -0.280, -0.281], [0, 0, 0, 0, 0.00057]
SLOPE_D, ICPT_D = [-0.338, -0.340, -0.338, -0.368, 0.250], [0, 0, 0, 0, -0.0106]
SLOPE_E, ICPT_E = [-0.356, -0.358, -0.347, -0.362, -0.401], [0, 0, 0, 0, 0.00101]
SLOPE_F, ICPT_F = [0.282, 0.285, 0.279, 0.289, 0.1845], [0, 0, 0, 0, 0.00731]
SLOPE_G, ICPT_G = [0.203, 0.204, 0.203, 0.205, 0.257], [0, 0, 0, 0, -0.0015]
SLOPE_H, ICPT_H = [0.157, 0.158, 0.156, 0.158, 0.422], [0, 0, 0, 0, -0.0067]
SLOPE_I, ICPT_I = [0.383, 0.385, 0.383, 0.385, 0.953], [0, 0, 0, 0, -0.0064]

XLAB = {"A": "SNP effect on educational attainment", "B": "SNP effect on educational attainment",
        "C": "SNP effect on educational attainment", "D": "SNP effect on educational attainment",
        "E": "SNP effect on educational attainment", "F": "SNP effect on hypertensive disease",
        "G": "SNP effect on BMI", "H": "SNP effect on smoking", "I": "SNP effect on watching TV"}
YLAB = {"A": "SNP effect on stroke", "B": "SNP effect on hypertensive disease", "C": "SNP effect on BMI",
        "D": "SNP effect on smoking", "E": "SNP effect on watching TV", "F": "SNP effect on stroke",
        "G": "SNP effect on stroke", "H": "SNP effect on stroke", "I": "SNP effect on stroke"}

X_TICKS = {"A": [0.01, 0.02, 0.03, 0.04], "B": [0.01, 0.02, 0.03, 0.04], "C": [0.015, 0.020, 0.025],
           "D": [0.01, 0.02, 0.03, 0.04], "E": [0.01, 0.02, 0.03, 0.04], "F": [0.04, 0.08, 0.12, 0.16],
           "G": [0.02, 0.04, 0.06], "H": [0.02, 0.03, 0.04], "I": [0.01, 0.02, 0.03]}
X_TICKLABELS = {"A": ["0.01", "0.02", "0.03", "0.04"], "B": ["0.01", "0.02", "0.03", "0.04"],
                "C": ["0.015", "0.020", "0.025"], "D": ["0.01", "0.02", "0.03", "0.04"],
                "E": ["0.01", "0.02", "0.03", "0.04"], "F": ["0.04", "0.08", "0.12", "0.16"],
                "G": ["0.02", "0.04", "0.06"], "H": ["0.02", "0.03", "0.04"], "I": ["0.01", "0.02", "0.03"]}
Y_TICKS = {"A": [-0.025, 0.0, 0.025], "B": [-0.10, -0.05, 0.0], "C": [-0.010, -0.005, 0.0],
           "D": [-0.02, -0.01, 0.0, 0.01], "E": [-0.015, -0.010, -0.005, 0.0], "F": [-0.05, 0.0, 0.05],
           "G": [-0.050, -0.025, 0.0, 0.025, 0.050], "H": [-0.02, 0.0, 0.02, 0.04], "I": [-0.05, 0.0, 0.05]}
Y_TICKLABELS = {"A": [MINUS + "0.025", "0.000", "0.025"], "B": [MINUS + "0.10", MINUS + "0.05", "0.00"],
                "C": [MINUS + "0.010", MINUS + "0.005", "0.000"],
                "D": [MINUS + "0.02", MINUS + "0.01", "0.00", "0.01"],
                "E": [MINUS + "0.015", MINUS + "0.010", MINUS + "0.005", "0.000"],
                "F": [MINUS + "0.05", "0.00", "0.05"],
                "G": [MINUS + "0.050", MINUS + "0.025", "0.000", "0.025", "0.050"],
                "H": [MINUS + "0.02", "0.00", "0.02", "0.04"], "I": [MINUS + "0.05", "0.00", "0.05"]}

# ---------------- layout (reference pixel frame 1568 x 1434)
W, H = 1568.0, 1434.0
PANEL_BOX = {  # left, right, top, bottom
    "A": (97, 487, 112, 392), "B": (612, 1012, 112, 393), "C": (1176, 1562, 112, 391),
    "D": (81, 480, 612, 894), "E": (628, 1015, 611, 892), "F": (1169, 1565, 610, 891),
    "G": (94, 484, 1099, 1380), "H": (617, 1015, 1099, 1381), "I": (1169, 1565, 1100, 1381)}
LIMITS = {
    "A": ((0.00955, 0.0445), (-0.0461, 0.0292)), "B": ((0.00929, 0.0446), (-0.1125, 0.0449)),
    "C": ((0.01019, 0.02783), (-0.01427, 0.00393)), "D": ((0.0096, 0.04148), (-0.02785, 0.01285)),
    "E": ((0.00954, 0.04463), (-0.0173, 0.00352)), "F": ((0.03643, 0.1969), (-0.0514, 0.0858)),
    "G": ((0.00441, 0.07298), (-0.0544, 0.0565)), "H": ((0.01461, 0.04896), (-0.0372, 0.0486)),
    "I": ((0.00576, 0.03893), (-0.0546, 0.090))}
# legend: centre x, title centre y, first row centre y
LEGEND_POS = {"A": (290, 8.3, 35.5), "B": (812, 8.3, 35.5), "C": (1368, 9, 37),
              "D": (281, 508.5, 535.6), "E": (821, 507, 535), "F": (1367, 506.5, 534),
              "G": (289, 995.5, 1023), "H": (816, 995.5, 1022.6), "I": (1367, 995.5, 1022.6)}
LETTER_POS = {"A": (30, 16), "B": (555, 16), "C": (1110, 17), "D": (24, 515), "E": (555, 518),
              "F": (1106, 513), "G": (30, 1010), "H": (555, 1006), "I": (1096, 1004)}
YLABEL_CENTER = {"B": 265}  # vertical centre of y title where it departs from axis-line centre

PANEL_DATA = {"A": (PTS_A, SLOPE_A, ICPT_A), "B": (PTS_B, SLOPE_B, ICPT_B), "C": (PTS_C, SLOPE_C, ICPT_C),
              "D": (PTS_D, SLOPE_D, ICPT_D), "E": (PTS_E, SLOPE_E, ICPT_E), "F": (PTS_F, SLOPE_F, ICPT_F),
              "G": (PTS_G, SLOPE_G, ICPT_G), "H": (PTS_H, SLOPE_H, ICPT_H), "I": (PTS_I, SLOPE_I, ICPT_I)}


class DiagHandler(HandlerBase):
    def create_artists(self, legend, orig_handle, xdescent, ydescent, width, height, fontsize, trans):
        x0, y0 = -xdescent, -ydescent
        ln = Line2D([x0, x0 + width], [y0 - 0.3 * height, y0 + 1.3 * height],
                    color=orig_handle.get_color(), lw=orig_handle.get_linewidth(),
                    solid_capstyle="butt")
        ln.set_transform(trans)
        return [ln]


fig = plt.figure(figsize=(19.59, 17.92), dpi=100, facecolor="white")

TICK_FS = 16.5
LABEL_FS = 18
LEG_FS = 15.5
SPINE_W = 3.6
ROW_HALF = 8.5  # half height of a legend row in reference pixels

for key in "ABCDEFGHI":
    pts, slopes, icpts = PANEL_DATA[key]
    df = pd.DataFrame(pts, columns=["bx", "by", "ex", "ey"])
    l, r, t, b = PANEL_BOX[key]
    ax = fig.add_axes([l / W, 1 - b / H, (r - l) / W, (b - t) / H])
    ax.set_facecolor("white")
    ax.errorbar(df["bx"], df["by"], xerr=df["ex"], yerr=df["ey"], fmt="none",
                ecolor="#BEBEBE", elinewidth=2.0, capsize=0, zorder=1)
    sns.scatterplot(data=df, x="bx", y="by", ax=ax, color="#9A00DC", edgecolor="black",
                    linewidth=1.4, s=88, zorder=3, legend=False)
    for i in DRAW_ORDER:
        ax.axline((0.0, icpts[i]), slope=slopes[i], color=METHOD_COLORS[i], lw=4.2,
                  solid_capstyle="butt", zorder=4)
    (x0, x1), (y0, y1) = LIMITS[key]
    ax.set_xlim(x0, x1)
    ax.set_ylim(y0, y1)
    xt, yt = X_TICKS[key], Y_TICKS[key]
    ax.set_xticks(xt, X_TICKLABELS[key])
    ax.set_yticks(yt, Y_TICKLABELS[key])
    for s in ["top", "right"]:
        ax.spines[s].set_visible(False)
    for s in ["left", "bottom"]:
        ax.spines[s].set_linewidth(SPINE_W)
        ax.spines[s].set_color("black")
        ax.spines[s].set_capstyle("butt")
    ax.spines["left"].set_bounds(min(yt), max(yt))
    ax.spines["bottom"].set_bounds(min(xt), max(xt))
    ax.tick_params(axis="y", direction="out", length=4.5, width=SPINE_W, pad=3, labelsize=TICK_FS,
                   left=True, color="black")
    ax.tick_params(axis="x", direction="out", length=5.5, width=SPINE_W, pad=4.5, labelsize=TICK_FS,
                   bottom=True, color="black")
    for lab in ax.get_xticklabels() + ax.get_yticklabels():
        lab.set_fontweight("bold")
    ax.grid(False)
    ax.set_xlabel(XLAB[key], fontsize=LABEL_FS, fontweight="bold", labelpad=4)
    ax.set_ylabel(YLAB[key], fontsize=LABEL_FS, fontweight="bold", labelpad=6)
    ax.xaxis.label.set_x(((min(xt) + max(xt)) / 2 - x0) / (x1 - x0))
    if key in YLABEL_CENTER:
        ax.yaxis.label.set_y((b - YLABEL_CENTER[key]) / (b - t))
    else:
        ax.yaxis.label.set_y(((min(yt) + max(yt)) / 2 - y0) / (y1 - y0))

    handles = [Line2D([], [], color=c, lw=4.0) for c in METHOD_COLORS]
    cx, tyc, row1 = LEGEND_POS[key]
    fig.text(cx / W, 1 - tyc / H, "MR Test", fontsize=LEG_FS, fontweight="bold",
             ha="center", va="center")
    fig.legend(handles, METHODS, loc="upper center", bbox_to_anchor=(cx / W, 1 - (row1 - ROW_HALF) / H),
               ncol=2, frameon=False, fontsize=LEG_FS,
               handler_map={Line2D: DiagHandler()}, handlelength=1.6, handleheight=0.9,
               handletextpad=0.5, columnspacing=0.5, labelspacing=0.27, borderpad=0.0,
               borderaxespad=0.0)
    lx, ly = LETTER_POS[key]
    fig.text(lx / W, 1 - ly / H, key, fontsize=28, ha="center", va="center")

fig.savefig("out.png", dpi=100, facecolor="white")
